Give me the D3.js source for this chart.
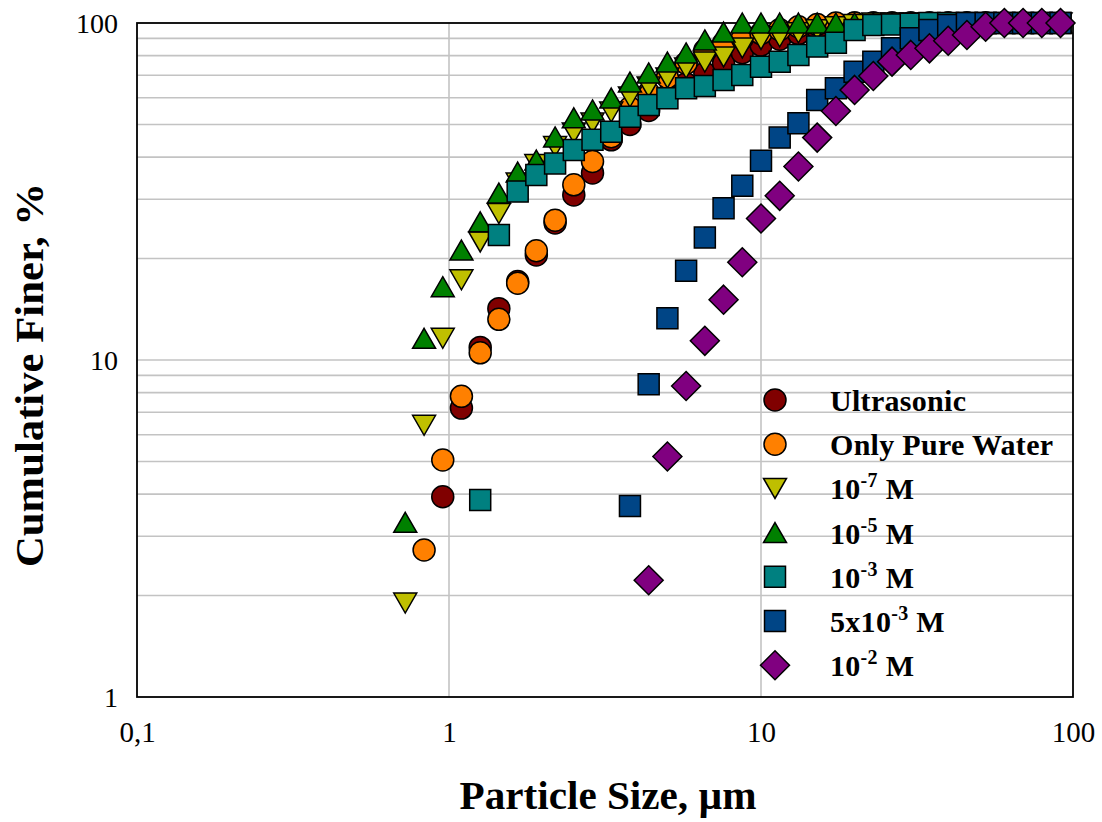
<!DOCTYPE html>
<html lang="en">
<head>
<meta charset="UTF-8" />
<title>Cumulative Finer vs Particle Size</title>
<script src="https://d3js.org/d3.v7.min.js"></script>
<style>
  body { margin: 0; background: #fff; }
  svg text { font-family: "Liberation Serif", "Times New Roman", serif; fill: #000; }
</style>
</head>
<body>
<script>
// particle size classes (um)
const sizeBins = [0.724, 0.832, 0.955, 1.096, 1.259, 1.445, 1.660, 1.905, 2.188, 2.512, 2.884, 3.311,
  3.802, 4.365, 5.012, 5.754, 6.607, 7.586, 8.710, 10.00, 11.48, 13.18, 15.14, 17.38,
  19.95, 22.91, 26.30, 30.20, 34.67, 39.81, 45.71, 52.48, 60.26, 69.18, 79.43, 91.20];

// cumulative finer (%) per size class, null = no point
const ultrasonic = [null, null, 3.93, 7.2, 10.9, 14.2, 17.1, 20.5, 25.5, 30.9, 35.9, 45,
  50, 55, 61, 66, 71, 76, 81.6, 86, 89.5, 93, 96.5, 98.5,
  100, 100, 100, 100, 100, 100, 100, 100, 100, 100, 100, 100];
const pureWater = [null, 2.73, 5.05, 7.8, 10.5, 13.2, 16.9, 21.1, 26.0, 33.1, 38.8, 46,
  56, 62, 69, 76, 83, 87, 90, 93, 95.5, 97.5, 99, 100,
  100, 100, 100, 100, 100, 100, 100, 100, 100, 100, 100, 100];
const m1e7 = [1.9, 6.4, 11.6, 17.3, 22.4, 27.2, 33.5, 38, 43, 47.2, 50.5, 54.4,
  60.3, 64.6, 68.7, 73.5, 76.6, 79.3, 84.3, 89.4, 91, 93.5, 95.5, 97.5,
  99, 100, 100, 100, 100, 100, 100, 100, 100, 100, 100, 100];
const m1e5 = [3.3, 11.6, 16.5, 21.2, 25.7, 31.3, 36.1, 39.2, 45.9, 52.3, 55.2, 59.9,
  66.8, 71.1, 76.6, 81.5, 89.1, 94.0, 100, 100, 100, 100, 100, 100,
  100, 100, 100, 100, 100, 100, 100, 100, 100, 100, 100, 100];
const m1e3 = [null, null, null, null, 3.84, 23.5, 31.6, 35.4, 38.3, 42.0, 45.0, 47.6,
  52.7, 57.1, 59.8, 64.0, 65.0, 67.7, 70.1, 74.2, 76.8, 80.4, 85.1, 87.4,
  95.3, 98.7, 99, 99.5, 100, 100, 100, 100, 100, 100, 100, 100];
const m5e3 = [null, null, null, null, null, null, null, null, null, null, null, null,
  3.69, 8.47, 13.3, 18.4, 23.1, 28.2, 32.9, 39.0, 45.7, 50.4, 59.1, 64.0,
  71.7, 76.8, 84.1, 90.1, 95.3, 98.7, 100, 100, 100, 100, 100, 100];
const m1e2 = [null, null, null, null, null, null, null, null, null, null, null, null,
  null, 2.22, 5.17, 8.37, 11.4, 15.1, 19.5, 26.3, 30.7, 37.5, 45.7, 54.8,
  63.3, 69.6, 76.8, 80.4, 84.1, 88.6, 92.1, 97.5, 100, 100, 100, 100];

const seriesNames = ["Ultrasonic", "Only Pure Water", "10^-7 M", "10^-5 M", "10^-3 M", "5x10^-3 M", "10^-2 M"];
const seriesValues = [ultrasonic, pureWater, m1e7, m1e5, m1e3, m5e3, m1e2];
const seriesColors = ["#800000", "#ff8000", "#bfbf00", "#008000", "#008080", "#004586", "#800080"];
const seriesShapes = ["circle", "circle", "down", "up", "square", "square", "diamond"];

const xTicks = [0.1, 1, 10, 100];
const xTickLabels = ["0,1", "1", "10", "100"];
const yTicks = [1, 10, 100];

const W = 1102, H = 822;
const plot = { left: 137, right: 1073, top: 23, bottom: 697 };
const serif = "'Liberation Serif', 'Times New Roman', serif";

const svg = d3.select("body").append("svg")
  .attr("width", W).attr("height", H);

const x = d3.scaleLog().domain([0.1, 100]).range([plot.left, plot.right]);
const y = d3.scaleLog().domain([1, 100]).range([plot.bottom, plot.top]);

// gridlines
const yMinor = [];
[1, 10].forEach(d => { for (let k = 2; k <= 10; k++) yMinor.push(d * k); });
svg.append("g").selectAll("line").data(yMinor.filter(v => v < 100)).join("line")
  .attr("x1", plot.left).attr("x2", plot.right)
  .attr("y1", d => y(d)).attr("y2", d => y(d))
  .attr("stroke", "#c3c3c3").attr("stroke-width", 1.6);
svg.append("g").selectAll("line").data([1, 10]).join("line")
  .attr("y1", plot.top).attr("y2", plot.bottom)
  .attr("x1", d => x(d)).attr("x2", d => x(d))
  .attr("stroke", "#c3c3c3").attr("stroke-width", 1.6);

// plot frame
svg.append("rect")
  .attr("x", plot.left).attr("y", plot.top)
  .attr("width", plot.right - plot.left).attr("height", plot.bottom - plot.top)
  .attr("fill", "none").attr("stroke", "#000").attr("stroke-width", 1.8);

// axes labels (no tick marks)
const xAxis = d3.axisBottom(x).tickValues(xTicks)
  .tickFormat((d, i) => xTickLabels[i]).tickSize(0).tickPadding(0);
const gx = svg.append("g").attr("transform", `translate(0,${plot.bottom})`).call(xAxis)
  .attr("font-family", serif).attr("font-size", 29);
gx.select(".domain").remove();
gx.selectAll("text").attr("dy", null).attr("y", 45)
  .style("font-size", "29px").style("font-family", serif);

const yAxis = d3.axisLeft(y).tickValues(yTicks).tickFormat(d3.format("d")).tickSize(0).tickPadding(0);
const gy = svg.append("g").attr("transform", `translate(${plot.left - 19},0)`).call(yAxis)
  .attr("font-family", serif).attr("font-size", 28);
gy.select(".domain").remove();
gy.selectAll("text").attr("dy", "0.34em")
  .style("font-size", "28px").style("font-family", serif);

// marker shapes
function markerPath(shape) {
  if (shape === "circle") return "M-11,0A11,11 0 1,0 11,0A11,11 0 1,0 -11,0Z";
  if (shape === "up") return "M0,-10L11.5,10L-11.5,10Z";
  if (shape === "down") return "M-11.5,-10L11.5,-10L0,10Z";
  if (shape === "square") return "M-10.5,-10.5H10.5V10.5H-10.5Z";
  return "M0,-14.5L14.5,0L0,14.5L-14.5,0Z";
}

seriesValues.forEach((vals, s) => {
  const pts = sizeBins.map((d, i) => ({ size: d, value: vals[i] })).filter(p => p.value != null);
  svg.append("g").selectAll("path").data(pts).join("path")
    .attr("d", markerPath(seriesShapes[s]))
    .attr("transform", p => `translate(${x(p.size)},${y(p.value)})`)
    .attr("fill", seriesColors[s])
    .attr("stroke", "#000").attr("stroke-width", 1.5);
});

// legend
const legendTop = 400, legendStep = 44.2;
const legend = svg.append("g");
seriesNames.forEach((name, i) => {
  const cy = legendTop + i * legendStep;
  legend.append("path")
    .attr("d", markerPath(seriesShapes[i]))
    .attr("transform", `translate(775,${cy})`)
    .attr("fill", seriesColors[i])
    .attr("stroke", "#000").attr("stroke-width", 1.5);
  const t = legend.append("text")
    .attr("x", 830).attr("y", cy + 11)
    .style("font-size", "30px").style("font-weight", "bold")
    .style("letter-spacing", "0.3px");
  const m = name.match(/^(.*?)\^(\S+)(.*)$/);
  if (m) {
    t.append("tspan").text(m[1]);
    t.append("tspan").attr("dy", -12).style("font-size", "20px").text(m[2]);
    t.append("tspan").attr("dy", 12).text(m[3]);
  } else {
    t.text(name);
  }
});

// axis titles
svg.append("text")
  .attr("x", (plot.left + plot.right) / 2 + 3).attr("y", 809)
  .attr("text-anchor", "middle")
  .attr("textLength", 297).attr("lengthAdjust", "spacingAndGlyphs")
  .style("font-size", "40px").style("font-weight", "bold")
  .text("Particle Size, \u00b5m");

svg.append("text")
  .attr("transform", "translate(43,375) rotate(-90)")
  .attr("text-anchor", "middle")
  .attr("textLength", 384).attr("lengthAdjust", "spacingAndGlyphs")
  .style("font-size", "40px").style("font-weight", "bold")
  .text("Cumulative Finer, %");
</script>
</body>
</html>
